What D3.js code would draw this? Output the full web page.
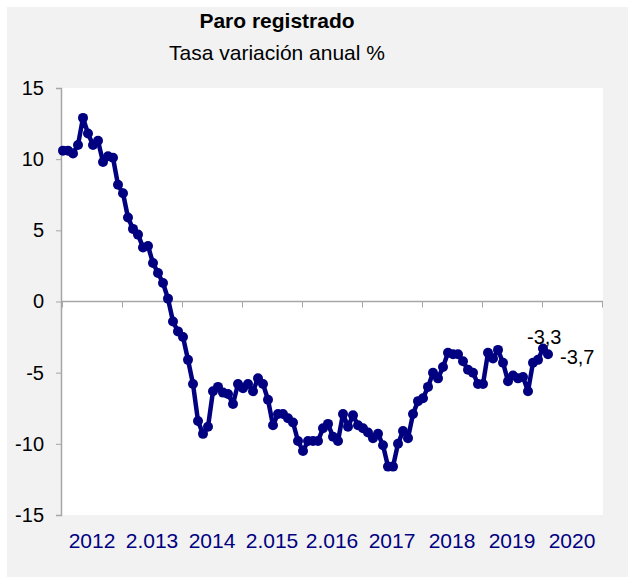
<!DOCTYPE html>
<html>
<head>
<meta charset="utf-8">
<script src="https://cdn.jsdelivr.net/npm/d3@7"></script>
<style>
  html, body { margin: 0; padding: 0; background: #ffffff; }
  svg { display: block; font-family: "Liberation Sans", Arial, sans-serif; }
</style>
</head>
<body>
<svg id="chart" width="628" height="577"></svg>
<script>
// ---- Data (monthly, Jan 2012 .. Feb 2020), annual % change ----
const values = [
  10.6, 10.6, 10.4, 11.0, 12.9, 11.8, 11.0, 11.3, 9.8, 10.2, 10.1, 8.2,
  7.6, 5.9, 5.1, 4.7, 3.8, 3.9, 2.7, 2.0, 1.3, 0.2, -1.4, -2.1,
  -2.5, -4.1, -5.8, -8.4, -9.3, -8.8, -6.3, -6.0, -6.4, -6.5, -7.2, -5.8,
  -6.1, -5.8, -6.3, -5.4, -5.8, -6.9, -8.7, -7.9, -7.9, -8.2, -8.5, -9.8,
  -10.5, -9.8, -9.8, -9.8, -8.9, -8.6, -9.5, -9.8, -7.9, -8.8, -8.0, -8.7,
  -8.9, -9.2, -9.6, -9.3, -10.1, -11.6, -11.6, -10.0, -9.1, -9.6, -7.9, -7.0,
  -6.8, -6.0, -5.0, -5.4, -4.6, -3.6, -3.7, -3.7, -4.2, -4.8, -5.0, -5.8,
  -5.8, -3.6, -4.0, -3.4, -4.3, -5.6, -5.2, -5.4, -5.3, -6.3, -4.3, -4.1,
  -3.3, -3.7
];
const yearLabels = ["2012", "2.013", "2014", "2.015", "2.016", "2017", "2018", "2019", "2020"];
const yTicks = [-15, -10, -5, 0, 5, 10, 15];
const annotations = [
  { index: 96, text: "-3,3" },
  { index: 97, text: "-3,7" }
];
const title = "Paro registrado";
const subtitle = "Tasa variación anual %";

// ---- Layout ----
const svg = d3.select("#chart");
const plot = { left: 61, right: 603, top: 88, bottom: 515 };
const monthsPerYear = 12;
const nMonths = yearLabels.length * monthsPerYear;

const x = d3.scaleLinear().domain([0, nMonths]).range([62, 602]);
const y = d3.scaleLinear().domain([-15, 15]).range([plot.bottom, plot.top]);

// background frame
svg.append("rect").attr("x", 7).attr("y", 7).attr("width", 621).attr("height", 570)
  .attr("fill", "#f2f2f2");
// plot area
svg.append("rect").attr("x", plot.left).attr("y", plot.top)
  .attr("width", plot.right - plot.left).attr("height", plot.bottom - plot.top)
  .attr("fill", "#ffffff");

// titles
svg.append("text").attr("x", 277).attr("y", 28).attr("text-anchor", "middle")
  .attr("font-size", 21).attr("font-weight", "bold").attr("fill", "#000").text(title);
svg.append("text").attr("x", 277).attr("y", 60).attr("text-anchor", "middle")
  .attr("font-size", 21).attr("fill", "#000").text(subtitle);

// y axis
const yAxis = d3.axisLeft(y).tickValues(yTicks).tickSize(5).tickPadding(12)
  .tickFormat(d => String(d));
const gy = svg.append("g").attr("transform", `translate(${plot.left},0)`).call(yAxis);
gy.select(".domain").attr("stroke", "#a6a6a6").attr("stroke-width", 1.5);
gy.selectAll(".tick line").attr("stroke", "#a6a6a6");
gy.selectAll(".tick text").attr("font-size", 20).attr("fill", "#000")
  .attr("font-family", "Liberation Sans, Arial, sans-serif");

// zero line with ticks (category axis)
const xAxis = d3.axisBottom(x)
  .tickValues(d3.range(0, nMonths + 1, monthsPerYear))
  .tickSize(6).tickFormat("");
const gx = svg.append("g").attr("transform", `translate(0,${y(0)})`).call(xAxis);
gx.select(".domain").attr("stroke", "#a6a6a6").attr("stroke-width", 1.5)
  .attr("d", `M${plot.left},0H${plot.right}`);
gx.selectAll(".tick line").attr("stroke", "#a6a6a6");

// year labels
svg.append("g").selectAll("text").data(yearLabels).join("text")
  .attr("x", (d, i) => x(i * monthsPerYear + monthsPerYear / 2))
  .attr("y", 548)
  .attr("text-anchor", "middle")
  .attr("font-size", 21)
  .attr("fill", "#000080")
  .text(d => d);

// line
const px = i => x(i + 0.2);
const line = d3.line().x((d, i) => px(i)).y(d => y(d));
svg.append("path").datum(values)
  .attr("d", line)
  .attr("fill", "none")
  .attr("stroke", "#000080")
  .attr("stroke-width", 4.5)
  .attr("stroke-linejoin", "round");
svg.append("g").selectAll("circle").data(values).join("circle")
  .attr("cx", (d, i) => px(i))
  .attr("cy", d => y(d))
  .attr("r", 5)
  .attr("fill", "#000080");

// annotations
svg.append("g").selectAll("text").data(annotations).join("text")
  .attr("x", (d, i) => px(d.index) + (i === 0 ? -16 : 12))
  .attr("y", (d, i) => y(values[d.index]) + (i === 0 ? -4 : 10))
  .attr("font-size", 20)
  .attr("fill", "#000")
  .text(d => d.text);
</script>
</body>
</html>
